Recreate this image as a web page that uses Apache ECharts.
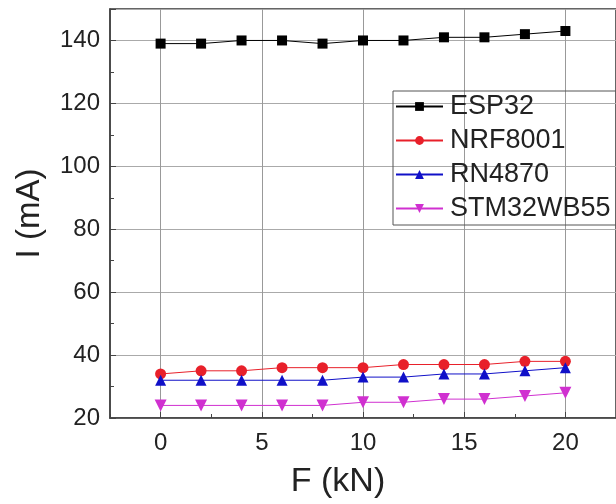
<!DOCTYPE html>
<html>
<head>
<meta charset="utf-8">
<script src="https://cdn.jsdelivr.net/npm/echarts@6/dist/echarts.min.js"></script>
<style>html,body{margin:0;padding:0;background:#fff;}#c{width:616px;height:504px;}</style>
</head>
<body>
<div id="c"></div>
<script>
const F = [0, 2, 4, 6, 8, 10, 12, 14, 16, 18, 20];
const esp32 = [139, 139, 140, 140, 139, 140, 140, 141, 141, 142, 143];
const nrf8001 = [34, 35, 35, 36, 36, 36, 37, 37, 37, 38, 38];
const rn4870 = [32, 32, 32, 32, 32, 33, 33, 34, 34, 35, 36];
const stm32wb55 = [24, 24, 24, 24, 24, 25, 25, 26, 26, 27, 28];
const xTicks = [0, 5, 10, 15, 20];
const seriesNames = ['ESP32', 'NRF8001', 'RN4870', 'STM32WB55'];

const FONT = 'Liberation Sans, Arial, sans-serif';
const pair = arr => F.map((x, i) => [x, arr[i]]);

const chart = echarts.init(document.getElementById('c'), null, {renderer: 'canvas'});
const mk = (name, data, color, symbol, size, rotate) => ({
  name, type: 'line', data: pair(data), xAxisIndex: 0, yAxisIndex: 0,
  symbol, symbolSize: size, symbolRotate: rotate || 0,
  lineStyle: {color, width: 1},
  itemStyle: {color},
  emphasis: {disabled: true},
  animation: false
});
chart.setOption({
  animation: false,
  grid: {left: 110, top: 9, width: 515, height: 414, show: true, borderColor: '#333', borderWidth: 1.5, backgroundColor: 'transparent'},
  legend: {
    orient: 'vertical', left: 393, top: 91,
    itemWidth: 47, itemHeight: 11, itemGap: 7,
    padding: [2, 60, 3, 2],
    borderColor: '#555', borderWidth: 1,
    textStyle: {fontSize: 27, fontFamily: FONT, color: '#222', padding: [0, 0, 0, 2]},
    data: seriesNames
  },
  xAxis: [{
    type: 'value', min: -2.5, max: 22.5,
    name: 'F (kN)', nameLocation: 'middle', nameGap: 47,
    nameTextStyle: {fontSize: 34, fontFamily: FONT, color: '#222', padding: [0, 50, 0, 0]},
    axisLine: {show: true, onZero: false, lineStyle: {color: '#444', width: 1.5}},
    axisTick: {show: true, inside: true, length: 6, customValues: xTicks, lineStyle: {color: '#444'}},
    axisLabel: {fontSize: 24, fontFamily: FONT, color: '#222', margin: 13, customValues: xTicks},
    splitLine: {show: true, lineStyle: {color: '#999', width: 1}}
  }, {
    type: 'value', min: -2.5, max: 22.5, interval: 2.5, position: 'bottom',
    axisLine: {show: false, onZero: false},
    axisTick: {show: true, inside: true, length: 4, lineStyle: {color: '#444'}},
    axisLabel: {show: false},
    splitLine: {show: false}
  }],
  yAxis: {
    type: 'value', min: 20, max: 150, interval: 20,
    name: 'I (mA)', nameLocation: 'middle', nameGap: 64,
    nameTextStyle: {fontSize: 33, fontFamily: FONT, color: '#222'},
    axisLine: {show: true, onZero: false, lineStyle: {color: '#444', width: 1.5}},
    axisTick: {show: true, inside: true, length: 6, lineStyle: {color: '#444'}},
    minorTick: {show: true, splitNumber: 2, length: 4, lineStyle: {color: '#444'}},
    axisLabel: {fontSize: 24, fontFamily: FONT, color: '#222', margin: 10,
      formatter: v => (v > 140 ? '' : String(v))},
    splitLine: {show: true, lineStyle: {color: '#aaa', width: 1}}
  },
  series: [
    mk(seriesNames[0], esp32, '#000000', 'rect', 10),
    mk(seriesNames[1], nrf8001, '#e8202a', 'circle', 11),
    mk(seriesNames[2], rn4870, '#1010c8', 'triangle', 11),
    mk(seriesNames[3], stm32wb55, '#d030d0', 'triangle', 12, 180)
  ]
});
</script>
</body>
</html>
